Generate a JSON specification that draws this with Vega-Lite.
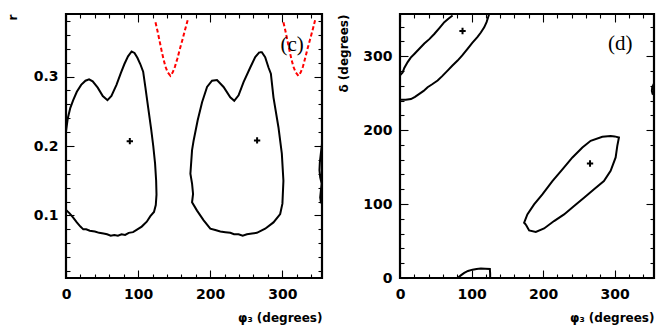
{
  "$schema": "https://vega.github.io/schema/vega-lite/v6.json",
  "padding": {"left": 5, "top": 12, "right": 5, "bottom": 5},
  "background": "white",
  "config": {
    "view": {"stroke": "black", "strokeWidth": 2.2},
    "font": "DejaVu Sans",
    "axis": {
      "labelFont": "DejaVu Sans", "labelFontWeight": "bold", "labelFontSize": 14, "labelColor": "black",
      "tickColor": "black", "tickWidth": 1.1, "domain": false, "grid": false,
      "titleFont": "DejaVu Sans", "titleFontWeight": "bold", "titleFontSize": 12, "titleColor": "black",
      "labelOverlap": false, "labelFlush": false, "labelBound": false
    }
  },
  "datasets": {
    "c_cont": [
      {"g":"A","i":0,"phi":0,"r":0.221},{"g":"A","i":1,"phi":2.5,"r":0.240},{"g":"A","i":2,"phi":6,"r":0.255},{"g":"A","i":3,"phi":10,"r":0.266},
      {"g":"A","i":4,"phi":15,"r":0.278},{"g":"A","i":5,"phi":21,"r":0.288},{"g":"A","i":6,"phi":27,"r":0.294},{"g":"A","i":7,"phi":32,"r":0.296},
      {"g":"A","i":8,"phi":37,"r":0.293},{"g":"A","i":9,"phi":44,"r":0.284},{"g":"A","i":10,"phi":51,"r":0.272},{"g":"A","i":11,"phi":57.5,"r":0.266},
      {"g":"A","i":12,"phi":63,"r":0.272},{"g":"A","i":13,"phi":70,"r":0.288},{"g":"A","i":14,"phi":76,"r":0.305},{"g":"A","i":15,"phi":81,"r":0.318},
      {"g":"A","i":16,"phi":86,"r":0.329},{"g":"A","i":17,"phi":91,"r":0.336},{"g":"A","i":18,"phi":95,"r":0.334},{"g":"A","i":19,"phi":99,"r":0.327},
      {"g":"A","i":20,"phi":103,"r":0.318},{"g":"A","i":21,"phi":107,"r":0.307},{"g":"A","i":22,"phi":110,"r":0.285},{"g":"A","i":23,"phi":114,"r":0.255},
      {"g":"A","i":24,"phi":118,"r":0.225},{"g":"A","i":25,"phi":121,"r":0.200},{"g":"A","i":26,"phi":123.5,"r":0.175},{"g":"A","i":27,"phi":125,"r":0.150},
      {"g":"A","i":28,"phi":125.5,"r":0.130},{"g":"A","i":29,"phi":124.5,"r":0.115},{"g":"A","i":30,"phi":122,"r":0.105},{"g":"A","i":31,"phi":117,"r":0.099},
      {"g":"A","i":32,"phi":112,"r":0.091},{"g":"A","i":33,"phi":105,"r":0.084},{"g":"A","i":34,"phi":99,"r":0.080},{"g":"A","i":35,"phi":93,"r":0.076},
      {"g":"A","i":36,"phi":87,"r":0.075},{"g":"A","i":37,"phi":82,"r":0.072},{"g":"A","i":38,"phi":77,"r":0.073},{"g":"A","i":39,"phi":72,"r":0.071},
      {"g":"A","i":40,"phi":67,"r":0.072},{"g":"A","i":41,"phi":62,"r":0.071},{"g":"A","i":42,"phi":57,"r":0.073},{"g":"A","i":43,"phi":52,"r":0.074},
      {"g":"A","i":44,"phi":46,"r":0.075},{"g":"A","i":45,"phi":40,"r":0.077},{"g":"A","i":46,"phi":33,"r":0.078},{"g":"A","i":47,"phi":28,"r":0.080},
      {"g":"A","i":48,"phi":24,"r":0.080},{"g":"A","i":49,"phi":20,"r":0.084},{"g":"A","i":50,"phi":15,"r":0.090},{"g":"A","i":51,"phi":10,"r":0.097},
      {"g":"A","i":52,"phi":5,"r":0.103},{"g":"A","i":53,"phi":0,"r":0.108},
      {"g":"B","i":0,"phi":268.3,"r":0.335},{"g":"B","i":1,"phi":262.4,"r":0.328},{"g":"B","i":2,"phi":255.5,"r":0.313},{"g":"B","i":3,"phi":246.2,"r":0.292},
      {"g":"B","i":4,"phi":239.3,"r":0.273},{"g":"B","i":5,"phi":233.3,"r":0.265},{"g":"B","i":6,"phi":227.8,"r":0.270},{"g":"B","i":7,"phi":218.5,"r":0.285},
      {"g":"B","i":8,"phi":209.4,"r":0.295},{"g":"B","i":9,"phi":202.5,"r":0.294},{"g":"B","i":10,"phi":195.6,"r":0.285},{"g":"B","i":11,"phi":188.7,"r":0.263},
      {"g":"B","i":12,"phi":182.6,"r":0.237},{"g":"B","i":13,"phi":177,"r":0.208},{"g":"B","i":14,"phi":174.8,"r":0.194},{"g":"B","i":15,"phi":172.5,"r":0.160},
      {"g":"B","i":16,"phi":174.8,"r":0.146},{"g":"B","i":17,"phi":176.2,"r":0.131},{"g":"B","i":18,"phi":174.8,"r":0.119},{"g":"B","i":19,"phi":181.7,"r":0.107},
      {"g":"B","i":20,"phi":190.9,"r":0.093},{"g":"B","i":21,"phi":200.1,"r":0.081},{"g":"B","i":22,"phi":207,"r":0.079},{"g":"B","i":23,"phi":214,"r":0.077},
      {"g":"B","i":24,"phi":221,"r":0.076},{"g":"B","i":25,"phi":227.8,"r":0.075},{"g":"B","i":26,"phi":233,"r":0.073},{"g":"B","i":27,"phi":239.3,"r":0.073},
      {"g":"B","i":28,"phi":245,"r":0.071},{"g":"B","i":29,"phi":250.9,"r":0.073},{"g":"B","i":30,"phi":258,"r":0.074},{"g":"B","i":31,"phi":264.7,"r":0.075},
      {"g":"B","i":32,"phi":276.2,"r":0.081},{"g":"B","i":33,"phi":287.7,"r":0.090},{"g":"B","i":34,"phi":297,"r":0.102},{"g":"B","i":35,"phi":300.1,"r":0.117},
      {"g":"B","i":36,"phi":301.5,"r":0.150},{"g":"B","i":37,"phi":299.3,"r":0.189},{"g":"B","i":38,"phi":294.6,"r":0.227},{"g":"B","i":39,"phi":287.7,"r":0.270},
      {"g":"B","i":40,"phi":284.1,"r":0.304},{"g":"B","i":41,"phi":280.8,"r":0.313},{"g":"B","i":42,"phi":276.2,"r":0.328},{"g":"B","i":43,"phi":271.6,"r":0.335},
      {"g":"B","i":44,"phi":268.3,"r":0.335},
      {"g":"E","i":0,"phi":355,"r":0.203},{"g":"E","i":1,"phi":353.5,"r":0.190},{"g":"E","i":2,"phi":352,"r":0.176},{"g":"E","i":3,"phi":351.5,"r":0.165},
      {"g":"E","i":4,"phi":352.5,"r":0.155},{"g":"E","i":5,"phi":354.5,"r":0.146},{"g":"E","i":6,"phi":353.5,"r":0.136},{"g":"E","i":7,"phi":352.5,"r":0.126},
      {"g":"E","i":8,"phi":353.5,"r":0.119},{"g":"E","i":9,"phi":355,"r":0.117}
    ],
    "c_red": [
      {"g":"R1","i":0,"phi":124.1,"r":0.378},{"g":"R1","i":1,"phi":126.8,"r":0.366},{"g":"R1","i":2,"phi":129.6,"r":0.352},{"g":"R1","i":3,"phi":132.4,"r":0.338},
      {"g":"R1","i":4,"phi":135.2,"r":0.325},{"g":"R1","i":5,"phi":138,"r":0.314},{"g":"R1","i":6,"phi":141,"r":0.306},{"g":"R1","i":7,"phi":144.8,"r":0.301},
      {"g":"R1","i":8,"phi":148,"r":0.306},{"g":"R1","i":9,"phi":151,"r":0.314},{"g":"R1","i":10,"phi":154.5,"r":0.326},{"g":"R1","i":11,"phi":158,"r":0.340},
      {"g":"R1","i":12,"phi":161.5,"r":0.353},{"g":"R1","i":13,"phi":165,"r":0.367},{"g":"R1","i":14,"phi":168.7,"r":0.381},
      {"g":"R2","i":0,"phi":301.5,"r":0.378},{"g":"R2","i":1,"phi":304.2,"r":0.366},{"g":"R2","i":2,"phi":307,"r":0.352},{"g":"R2","i":3,"phi":309.8,"r":0.338},
      {"g":"R2","i":4,"phi":312.6,"r":0.325},{"g":"R2","i":5,"phi":315.4,"r":0.314},{"g":"R2","i":6,"phi":318.5,"r":0.306},{"g":"R2","i":7,"phi":322.3,"r":0.301},
      {"g":"R2","i":8,"phi":325.5,"r":0.306},{"g":"R2","i":9,"phi":328.5,"r":0.314},{"g":"R2","i":10,"phi":331.8,"r":0.327},{"g":"R2","i":11,"phi":335.2,"r":0.341},
      {"g":"R2","i":12,"phi":338.6,"r":0.354},{"g":"R2","i":13,"phi":342,"r":0.367},{"g":"R2","i":14,"phi":345.4,"r":0.381}
    ],
    "c_best": [{"phi":88.5,"r":0.207},{"phi":265,"r":0.208}],
    "c_lab": [{"phi":313.5,"r":0.346,"t":"(c)"}],
    "d_cont": [
      {"g":"D1","i":0,"phi":73.5,"d":355},{"g":"D1","i":1,"phi":68,"d":351},{"g":"D1","i":2,"phi":61.9,"d":346},{"g":"D1","i":3,"phi":55,"d":338},
      {"g":"D1","i":4,"phi":47.9,"d":330},{"g":"D1","i":5,"phi":41,"d":323},{"g":"D1","i":6,"phi":34,"d":317},{"g":"D1","i":7,"phi":27,"d":310},
      {"g":"D1","i":8,"phi":20,"d":303},{"g":"D1","i":9,"phi":15,"d":298},{"g":"D1","i":10,"phi":10.7,"d":292},{"g":"D1","i":11,"phi":6,"d":284},
      {"g":"D1","i":12,"phi":3.7,"d":278},{"g":"D1","i":13,"phi":0,"d":274},
      {"g":"D2","i":0,"phi":0,"d":241},{"g":"D2","i":1,"phi":8,"d":241},{"g":"D2","i":2,"phi":15.3,"d":242},{"g":"D2","i":3,"phi":21,"d":245},
      {"g":"D2","i":4,"phi":27,"d":249},{"g":"D2","i":5,"phi":33,"d":253},{"g":"D2","i":6,"phi":38.6,"d":258},{"g":"D2","i":7,"phi":45,"d":262},
      {"g":"D2","i":8,"phi":52.6,"d":267},{"g":"D2","i":9,"phi":59,"d":273},{"g":"D2","i":10,"phi":66.5,"d":280.5},{"g":"D2","i":11,"phi":73,"d":287},
      {"g":"D2","i":12,"phi":80.5,"d":294},{"g":"D2","i":13,"phi":87,"d":301},{"g":"D2","i":14,"phi":94.4,"d":310},{"g":"D2","i":15,"phi":101,"d":318},
      {"g":"D2","i":16,"phi":108.4,"d":326},{"g":"D2","i":17,"phi":113,"d":332},{"g":"D2","i":18,"phi":117.7,"d":339},{"g":"D2","i":19,"phi":121,"d":346},
      {"g":"D2","i":20,"phi":123.3,"d":353},{"g":"D2","i":21,"phi":124.7,"d":357},
      {"g":"D3","i":0,"phi":175.8,"d":72.4},{"g":"D3","i":1,"phi":180.5,"d":64.3},{"g":"D3","i":2,"phi":189.8,"d":62.4},{"g":"D3","i":3,"phi":201.4,"d":67},
      {"g":"D3","i":4,"phi":215.3,"d":77},{"g":"D3","i":5,"phi":229.3,"d":86},{"g":"D3","i":6,"phi":243.3,"d":97.3},{"g":"D3","i":7,"phi":257.2,"d":108.6},
      {"g":"D3","i":8,"phi":271.2,"d":120},{"g":"D3","i":9,"phi":285,"d":131},{"g":"D3","i":10,"phi":294.4,"d":145},{"g":"D3","i":11,"phi":301.4,"d":163},
      {"g":"D3","i":12,"phi":303.7,"d":178.7},{"g":"D3","i":13,"phi":306,"d":190},{"g":"D3","i":14,"phi":300,"d":191.5},{"g":"D3","i":15,"phi":294.4,"d":191.9},
      {"g":"D3","i":16,"phi":282.8,"d":191},{"g":"D3","i":17,"phi":266.5,"d":185.5},{"g":"D3","i":18,"phi":254.9,"d":176.5},{"g":"D3","i":19,"phi":241,"d":163},
      {"g":"D3","i":20,"phi":227,"d":147},{"g":"D3","i":21,"phi":213,"d":131},{"g":"D3","i":22,"phi":199,"d":113},{"g":"D3","i":23,"phi":187.4,"d":99.5},
      {"g":"D3","i":24,"phi":178,"d":86},{"g":"D3","i":25,"phi":173.5,"d":74.7},{"g":"D3","i":26,"phi":175.8,"d":72.4},
      {"g":"D4","i":0,"phi":80.5,"d":0},{"g":"D4","i":1,"phi":85,"d":3.5},{"g":"D4","i":2,"phi":89.8,"d":6.8},{"g":"D4","i":3,"phi":95,"d":9.5},
      {"g":"D4","i":4,"phi":101.4,"d":11.3},{"g":"D4","i":5,"phi":107,"d":12.3},{"g":"D4","i":6,"phi":113,"d":12.7},{"g":"D4","i":7,"phi":119,"d":12.5},
      {"g":"D4","i":8,"phi":125.6,"d":12.2},{"g":"D4","i":9,"phi":126,"d":6},{"g":"D4","i":10,"phi":126,"d":0},
      {"g":"D5","i":0,"phi":355,"d":263},{"g":"D5","i":1,"phi":352.5,"d":258},{"g":"D5","i":2,"phi":352,"d":253},{"g":"D5","i":3,"phi":353,"d":249},
      {"g":"D5","i":4,"phi":355,"d":248}
    ],
    "d_best": [{"phi":87.4,"d":334},{"phi":265.6,"d":154.8}],
    "d_lab": [{"phi":308,"d":317,"t":"(d)"}]
  },
  "hconcat": [
    {
      "width": 256, "height": 264,
      "resolve": {"axis": {"x": "independent", "y": "independent"}},
      "layer": [
        {
          "data": {"name": "c_cont"},
          "mark": {"type": "line", "color": "black", "strokeWidth": 2, "clip": true},
          "encoding": {
            "x": {"field": "phi", "type": "quantitative", "scale": {"domain": [0, 355], "nice": false, "zero": false},
              "title": "φ₃ (degrees)",
              "axis": {"orient": "bottom", "values": [0,20,40,60,80,100,120,140,160,180,200,220,240,260,280,300,320,340],
                "tickSize": {"condition": {"test": "datum.value % 100 === 0", "value": -8}, "value": -4},
                "labelExpr": "datum.value % 100 === 0 ? datum.label : ''", "labelPadding": 17,
                "titleAnchor": "end", "titlePadding": 7}},
            "y": {"field": "r", "type": "quantitative", "scale": {"domain": [0.01, 0.39], "nice": false, "zero": false},
              "title": "r",
              "axis": {"orient": "left", "format": ".1f",
                "values": [0.02,0.04,0.06,0.08,0.1,0.12,0.14,0.16,0.18,0.2,0.22,0.24,0.26,0.28,0.3,0.32,0.34,0.36,0.38],
                "tickSize": {"condition": {"test": "abs(datum.value*10-round(datum.value*10))<0.001", "value": -8}, "value": -4},
                "labelExpr": "abs(datum.value*10-round(datum.value*10))<0.001 ? datum.label : ''", "labelPadding": 16,
                "titleAnchor": "end", "titlePadding": 14}},
            "detail": {"field": "g"},
            "order": {"field": "i", "type": "quantitative"}
          }
        },
        {
          "data": {"name": "c_best"},
          "mark": {"type": "point", "shape": "M-1,0L1,0M0,-1L0,1", "filled": false, "stroke": "black", "strokeWidth": 2, "size": 40, "opacity": 1},
          "encoding": {
            "x": {"field": "phi", "type": "quantitative", "scale": {"domain": [0, 355], "nice": false, "zero": false}, "title": null,
              "axis": {"orient": "top", "labels": false, "values": [0,20,40,60,80,100,120,140,160,180,200,220,240,260,280,300,320,340],
                "tickSize": {"condition": {"test": "datum.value % 100 === 0", "value": -8}, "value": -4}}},
            "y": {"field": "r", "type": "quantitative", "scale": {"domain": [0.01, 0.39], "nice": false, "zero": false}, "title": null,
              "axis": {"orient": "right", "labels": false,
                "values": [0.02,0.04,0.06,0.08,0.1,0.12,0.14,0.16,0.18,0.2,0.22,0.24,0.26,0.28,0.3,0.32,0.34,0.36,0.38],
                "tickSize": {"condition": {"test": "abs(datum.value*10-round(datum.value*10))<0.001", "value": -8}, "value": -4}}}
          }
        },
        {
          "data": {"name": "c_red"},
          "mark": {"type": "line", "color": "#ff0000", "strokeWidth": 2, "strokeDash": [4, 2.5], "clip": true},
          "encoding": {
            "x": {"field": "phi", "type": "quantitative", "axis": null},
            "y": {"field": "r", "type": "quantitative", "axis": null},
            "detail": {"field": "g"},
            "order": {"field": "i", "type": "quantitative"}
          }
        },
        {
          "data": {"name": "c_lab"},
          "mark": {"type": "text", "font": "Liberation Serif", "fontSize": 21, "color": "black", "align": "center", "baseline": "middle"},
          "encoding": {
            "x": {"field": "phi", "type": "quantitative", "axis": null},
            "y": {"field": "r", "type": "quantitative", "axis": null},
            "text": {"field": "t"}
          }
        }
      ]
    },
    {
      "width": 254, "height": 264,
      "resolve": {"axis": {"x": "independent", "y": "independent"}},
      "layer": [
        {
          "data": {"name": "d_cont"},
          "mark": {"type": "line", "color": "black", "strokeWidth": 2, "clip": true},
          "encoding": {
            "x": {"field": "phi", "type": "quantitative", "scale": {"domain": [0, 355], "nice": false, "zero": false},
              "title": "φ₃ (degrees)",
              "axis": {"orient": "bottom", "values": [0,20,40,60,80,100,120,140,160,180,200,220,240,260,280,300,320,340],
                "tickSize": {"condition": {"test": "datum.value % 100 === 0", "value": -8}, "value": -4},
                "labelExpr": "datum.value % 100 === 0 ? datum.label : ''", "labelPadding": 17,
                "titleAnchor": "end", "titlePadding": 7}},
            "y": {"field": "d", "type": "quantitative", "scale": {"domain": [0, 357], "nice": false, "zero": false},
              "title": "δ (degrees)",
              "axis": {"orient": "left", "values": [0,20,40,60,80,100,120,140,160,180,200,220,240,260,280,300,320,340],
                "tickSize": {"condition": {"test": "datum.value % 100 === 0", "value": -8}, "value": -4},
                "labelExpr": "datum.value % 100 === 0 ? datum.label : ''", "labelPadding": 16,
                "titleAnchor": "end", "titlePadding": 12}},
            "detail": {"field": "g"},
            "order": {"field": "i", "type": "quantitative"}
          }
        },
        {
          "data": {"name": "d_best"},
          "mark": {"type": "point", "shape": "M-1,0L1,0M0,-1L0,1", "filled": false, "stroke": "black", "strokeWidth": 2, "size": 40, "opacity": 1},
          "encoding": {
            "x": {"field": "phi", "type": "quantitative", "scale": {"domain": [0, 355], "nice": false, "zero": false}, "title": null,
              "axis": {"orient": "top", "labels": false, "values": [0,20,40,60,80,100,120,140,160,180,200,220,240,260,280,300,320,340],
                "tickSize": {"condition": {"test": "datum.value % 100 === 0", "value": -8}, "value": -4}}},
            "y": {"field": "d", "type": "quantitative", "scale": {"domain": [0, 357], "nice": false, "zero": false}, "title": null,
              "axis": {"orient": "right", "labels": false, "values": [0,20,40,60,80,100,120,140,160,180,200,220,240,260,280,300,320,340],
                "tickSize": {"condition": {"test": "datum.value % 100 === 0", "value": -8}, "value": -4}}}
          }
        },
        {
          "data": {"name": "d_lab"},
          "mark": {"type": "text", "font": "Liberation Serif", "fontSize": 21, "color": "black", "align": "center", "baseline": "middle"},
          "encoding": {
            "x": {"field": "phi", "type": "quantitative", "axis": null},
            "y": {"field": "d", "type": "quantitative", "axis": null},
            "text": {"field": "t"}
          }
        }
      ]
    }
  ],
  "spacing": 12
}
